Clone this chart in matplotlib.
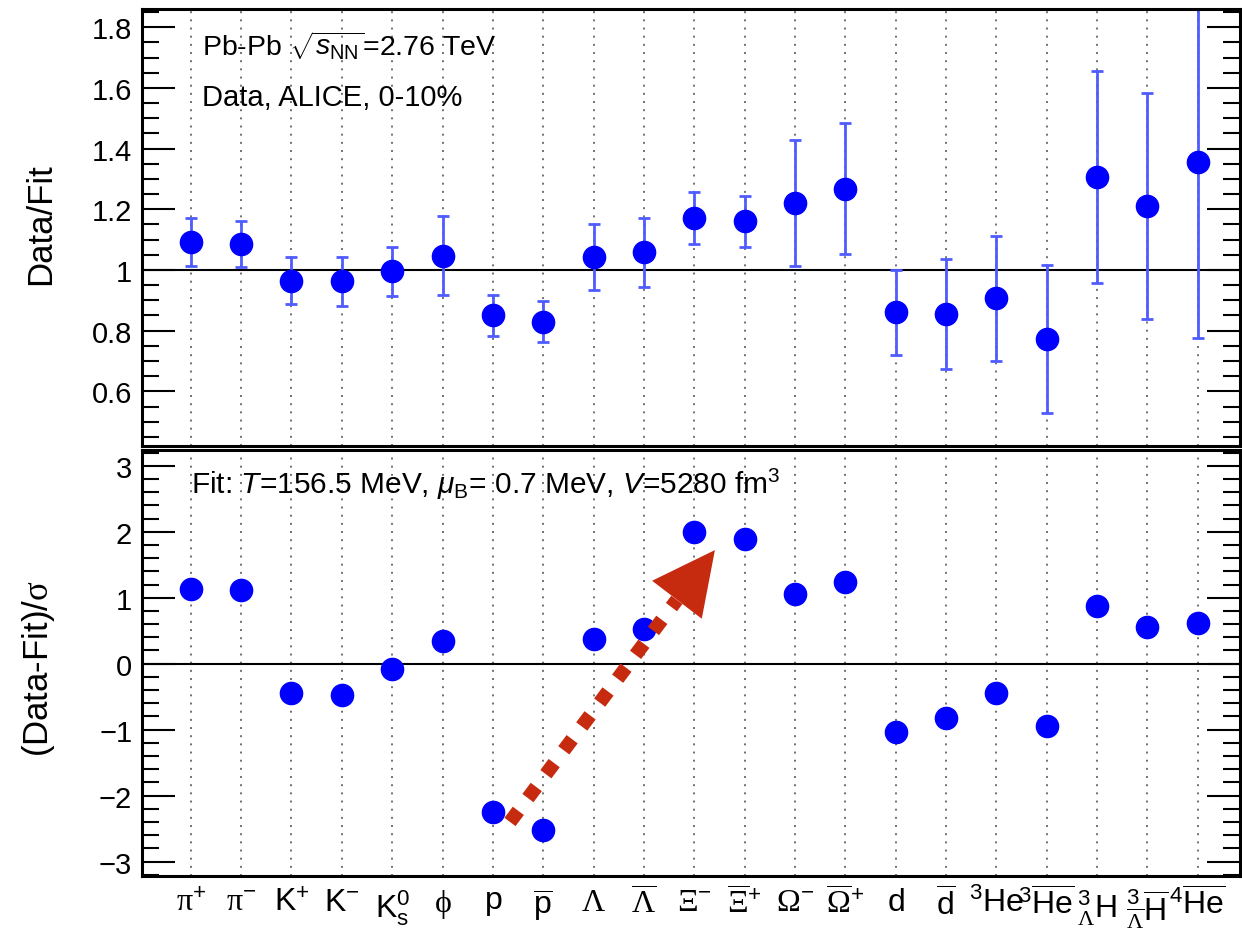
import matplotlib.pyplot as plt
from matplotlib.ticker import MultipleLocator
import numpy as np

plt.rcParams['font.family'] = ['Liberation Sans', 'DejaVu Sans']
plt.rcParams['mathtext.fontset'] = 'custom'
plt.rcParams['mathtext.rm'] = 'Liberation Sans'
plt.rcParams['mathtext.sf'] = 'Liberation Sans'
plt.rcParams['mathtext.it'] = 'Liberation Sans:italic'
plt.rcParams['mathtext.bf'] = 'Liberation Sans:bold'
# serif face used for the greek particle symbols
plt.rcParams['mathtext.tt'] = 'Liberation Serif'

# particle species
particles = [r'$\mathtt{\pi}^{+}$', r'$\mathtt{\pi}^{-}$', r'$\mathrm{K}^{+}$', r'$\mathrm{K}^{-}$',
             r'$\mathrm{K}^{0}_{\mathrm{s}}$', r'$\mathtt{\phi}$', r'$\mathrm{p}$',
             r'$\overline{\mathrm{p}}$', r'$\mathtt{\Lambda}$', r'$\overline{\mathtt{\Lambda}}$',
             r'$\mathtt{\Xi}^{-}$', r'$\overline{\mathtt{\Xi}}^{+}$', r'$\mathtt{\Omega}^{-}$',
             r'$\overline{\mathtt{\Omega}}^{+}$', r'$\mathrm{d}$', r'$\overline{\mathrm{d}}$',
             r'$^{3}\mathrm{He}$', r'$^{3}\overline{\mathrm{He}}$',
             r'$^{3}_{\mathtt{\Lambda}}\mathrm{H}$',
             r'$^{3}_{\overline{\mathtt{\Lambda}}}\overline{\mathrm{H}}$',
             r'$^{4}\overline{\mathrm{He}}$']

# data / fit ratio and its uncertainty
ratio = [1.092, 1.087, 0.965, 0.962, 0.995, 1.047, 0.850, 0.830, 1.043, 1.058,
         1.172, 1.160, 1.220, 1.267, 0.860, 0.855, 0.907, 0.773, 1.306, 1.210, 1.356]
ratio_err = [0.078, 0.076, 0.078, 0.082, 0.080, 0.130, 0.068, 0.068, 0.110, 0.113,
             0.086, 0.084, 0.207, 0.216, 0.140, 0.180, 0.206, 0.243, 0.350, 0.372, 0.580]

# deviation in units of sigma
dev = [1.13, 1.12, -0.45, -0.47, -0.08, 0.35, -2.25, -2.52, 0.38, 0.53,
       1.99, 1.89, 1.06, 1.24, -1.03, -0.82, -0.45, -0.94, 0.88, 0.56, 0.62]

x = np.arange(len(particles))
blue = '#0000ff'
red = '#c62a0f'

fig = plt.figure(figsize=(12.42, 9.37), dpi=100)
ax1 = fig.add_axes([0.1143, 0.523, 0.8837, 0.4663])
ax2 = fig.add_axes([0.1143, 0.064, 0.8837, 0.4547])

for ax in (ax1, ax2):
    ax.set_xlim(-0.97, 20.83)
    for xi in x:
        ax.axvline(xi, color='#707070', lw=1.4, ls=(0, (1, 3.2)), zorder=0)
    ax.tick_params(axis='y', which='both', direction='in', left=True, right=True,
                   labelsize=21, width=1.5, pad=7)
    ax.tick_params(axis='y', which='major', length=24)
    ax.tick_params(axis='y', which='minor', length=12)
    for s in ax.spines.values():
        s.set_linewidth(2.2)

# upper panel: ratio
ax1.axhline(1.0, color='black', lw=1.5, zorder=1)
ax1.errorbar(x, ratio, yerr=ratio_err, fmt='none', ecolor='#4f5cff', elinewidth=2,
             capsize=4.5, capthick=2, zorder=2)
ax1.plot(x, ratio, 'o', color=blue, ms=16, zorder=3)
ax1.set_ylim(0.42, 1.86)
ax1.yaxis.set_minor_locator(MultipleLocator(0.05))
ax1.set_yticks([0.6, 0.8, 1.0, 1.2, 1.4, 1.6, 1.8])
ax1.set_yticklabels(['0.6', '0.8', '1', '1.2', '1.4', '1.6', '1.8'])
ax1.set_xticks([])
ax1.set_ylabel('Data/Fit', fontsize=25)
ax1.yaxis.set_label_coords(-0.077, 0.51)
ax1.text(0.055, 0.896, r'Pb-Pb $\sqrt{s_{\mathrm{NN}}}$=2.76 TeV', transform=ax1.transAxes,
         fontsize=20.5)
ax1.text(0.055, 0.78, 'Data, ALICE, 0-10%', transform=ax1.transAxes, fontsize=21)

# lower panel: deviation
ax2.axhline(0.0, color='black', lw=1.5, zorder=1)
ax2.plot(x, dev, 'o', color=blue, ms=16, zorder=3)
ax2.set_ylim(-3.22, 3.24)
ax2.yaxis.set_major_locator(MultipleLocator(1))
ax2.yaxis.set_minor_locator(MultipleLocator(0.2))
ax2.set_ylabel(r'(Data-Fit)/$\mathtt{\sigma}$', fontsize=25)
ax2.yaxis.set_label_coords(-0.077, 0.49)
ax2.set_xticks(x)
ax2.set_xticklabels(particles, fontsize=23)
ax2.tick_params(axis='x', length=0, pad=8)
ax2.text(0.045, 0.9, r'Fit: $T$=156.5 MeV, $\mu_{\mathrm{B}}$= 0.7 MeV, $V$=5280 fm$^{3}$',
         transform=ax2.transAxes, fontsize=21.5)

# trend arrow from the proton deficit up to the multistrange excess
tail = (6.34, -2.40)
base = (9.654, 0.967)
tip = (10.41, 1.722)
ax2.plot([tail[0], base[0]], [tail[1], base[1]], color=red, lw=10,
         ls=(0, (1, 1.15)), dash_capstyle='butt', zorder=4)
ax2.annotate('', xy=tip, xytext=base,
             arrowprops=dict(arrowstyle='-|>,head_length=3.0,head_width=1.5',
                             mutation_scale=15, color=red, lw=0, shrinkA=0, shrinkB=0),
             zorder=4)

fig.savefig('out.png', dpi=100)
